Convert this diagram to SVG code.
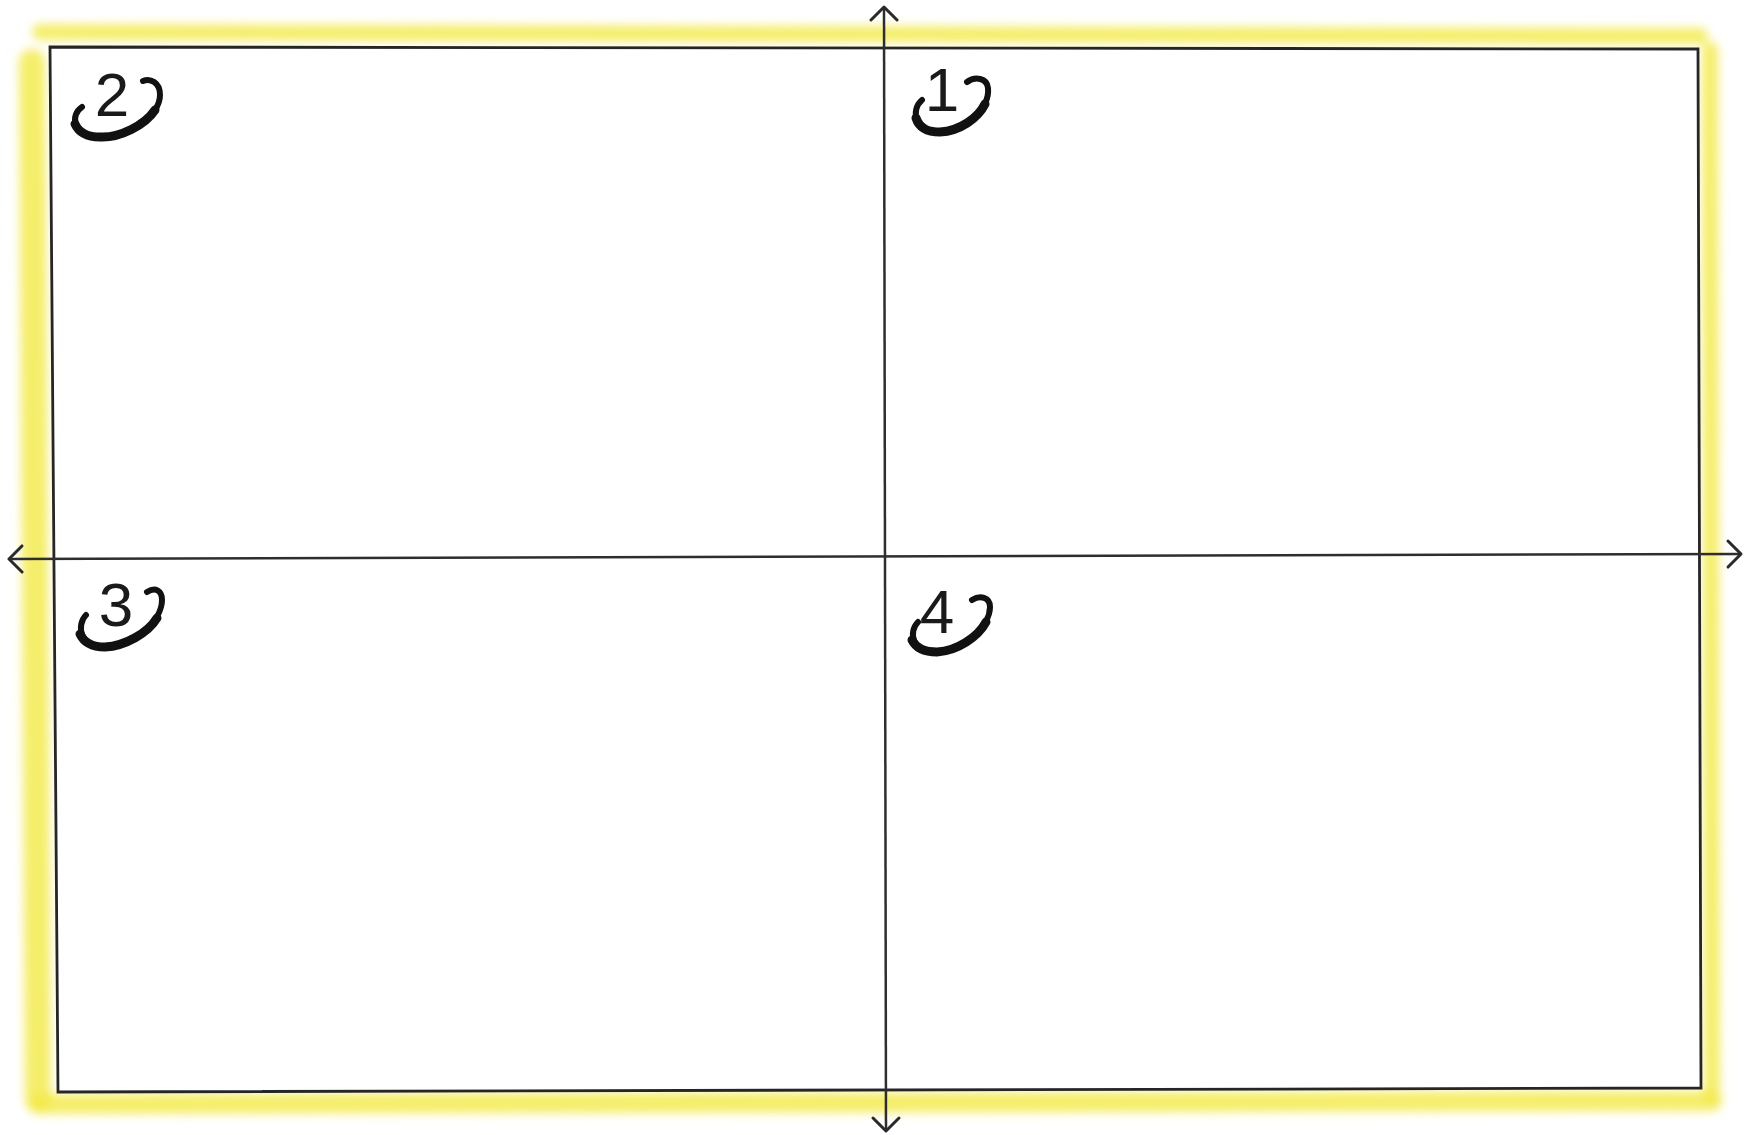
<svg xmlns="http://www.w3.org/2000/svg" width="1747" height="1135" viewBox="0 0 1747 1135">
<defs>
<filter id="blur" x="-5%" y="-5%" width="110%" height="110%"><feGaussianBlur stdDeviation="5"/></filter>
<marker id="arr" viewBox="0 0 20 32" markerUnits="userSpaceOnUse" markerWidth="20" markerHeight="32" refX="16" refY="16" orient="auto-start-reverse">
<path d="M 3 3 L 16 16 L 3 29" fill="none" stroke="#2a2a2a" stroke-width="3" stroke-linecap="round" stroke-linejoin="round"/>
</marker>
</defs>
<style>
.hl{stroke:#f2ea45;fill:none;stroke-linecap:round;opacity:0.8}
.frame{fill:#ffffff;stroke:#262626;stroke-width:2.8;stroke-linejoin:miter}
.axis{stroke:#2e2e2e;stroke-width:2.5;fill:none}
.num{font-family:"Liberation Sans","DejaVu Sans",sans-serif;font-size:62px;fill:#1a1a1a;text-anchor:middle}
.swoosh{fill:none;stroke:#111;stroke-width:6;stroke-linecap:round}
.swb{fill:none;stroke:#111;stroke-width:9;stroke-linecap:round}
</style>
<rect width="1747" height="1135" fill="#ffffff"/>
<g id="highlight" filter="url(#blur)">
<line class="hl" x1="32" y1="62" x2="38" y2="1100" stroke-width="26"/>
<line class="hl" x1="40" y1="32" x2="1700" y2="36" stroke-width="16"/>
<line class="hl" x1="1710" y1="50" x2="1712" y2="1095" stroke-width="16"/>
<line class="hl" x1="40" y1="1104" x2="1712" y2="1101" stroke-width="20"/>
</g>
<g id="frame">
<polygon class="frame" points="50,47 1698,49 1701,1088 58,1092"/>
</g>
<g id="connectors">
<line class="axis" x1="884" y1="7" x2="886" y2="1131" marker-start="url(#arr)" marker-end="url(#arr)"/>
<line class="axis" x1="9" y1="559" x2="1741" y2="554" marker-start="url(#arr)" marker-end="url(#arr)"/>
</g>
<g id="q1">
<text class="num" x="942" y="111">1</text>
<path class="swoosh" d="M 922 100 C 910 110, 915 133, 940 132 C 965 131, 990 108, 988 88 C 987 78, 975 76, 967 82"/>
<path class="swb" d="M 916 118 C 920 130, 930 132, 940 132 C 960 131, 978 118, 985 104"/>
</g>
<g id="q2">
<text class="num" x="112" y="116">2</text>
<path class="swoosh" d="M 82 107 C 70 115, 72 135, 100 137 C 130 139, 160 115, 160 95 C 160 82, 150 78, 143 81"/>
<path class="swb" d="M 75 124 C 80 135, 90 137, 100 137 C 120 138, 145 125, 155 110"/>
</g>
<g id="q3">
<text class="num" x="116" y="626">3</text>
<path class="swoosh" d="M 86 615 C 76 625, 80 648, 105 647 C 135 646, 162 620, 162 600 C 162 590, 155 587, 147 592"/>
<path class="swb" d="M 80 634 C 85 645, 95 647, 105 647 C 125 646, 148 633, 157 618"/>
</g>
<g id="q4">
<text class="num" x="937" y="633">4</text>
<path class="swoosh" d="M 918 622 C 908 632, 912 653, 937 652 C 965 651, 990 625, 990 607 C 990 597, 980 595, 972 600"/>
<path class="swb" d="M 912 640 C 917 650, 927 652, 937 652 C 957 651, 978 637, 986 622"/>
</g>
</svg>
